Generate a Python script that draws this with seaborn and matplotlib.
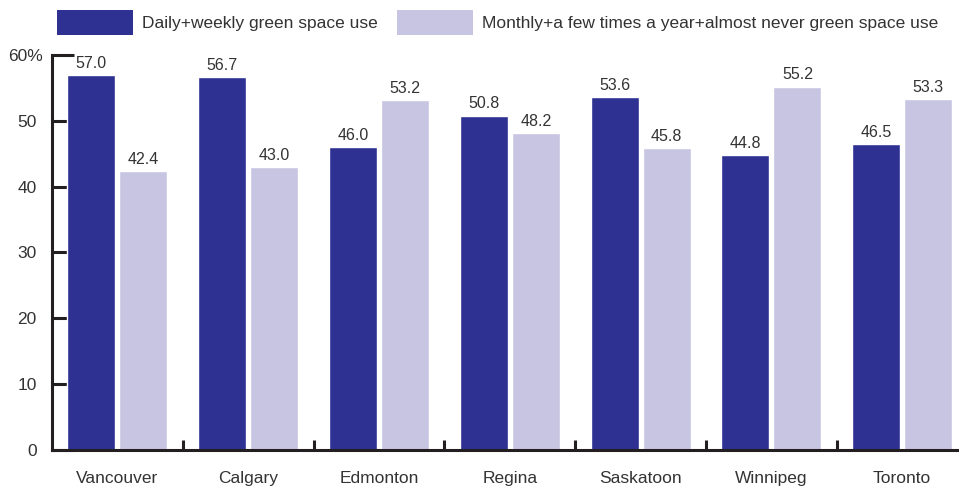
import matplotlib
matplotlib.use("Agg")
import matplotlib.pyplot as plt
import matplotlib.transforms as mtransforms
import seaborn as sns
import pandas as pd
from matplotlib.patches import Patch

cities = ["Vancouver", "Calgary", "Edmonton", "Regina", "Saskatoon", "Winnipeg", "Toronto"]
frequent_use = [57.0, 56.7, 46.0, 50.8, 53.6, 44.8, 46.5]
infrequent_use = [42.4, 43.0, 53.2, 48.2, 45.8, 55.2, 53.3]
series_names = ["Daily+weekly green space use",
                "Monthly+a few times a year+almost never green space use"]
y_ticks = [0, 10, 20, 30, 40, 50, 60]
y_tick_labels = ["0", "10", "20", "30", "40", "50", "60%"]

dark = "#2E3192"
light = "#C7C5E2"
ink = "#231F20"
text_col = "#333333"

df = pd.DataFrame({
    "city": cities * 2,
    "value": frequent_use + infrequent_use,
    "series": [series_names[0]] * len(cities) + [series_names[1]] * len(cities),
})

sns.set_theme(style="white")
plt.rcParams["font.family"] = ["Liberation Sans", "DejaVu Sans"]

fig = plt.figure(figsize=(9.59, 4.86), dpi=100)
ax = fig.add_axes([52 / 959, 36 / 486, 907 / 959, 395 / 486])

sns.barplot(data=df, x="city", y="value", hue="series", order=cities,
            hue_order=series_names, palette=[dark, light], width=0.795,
            gap=0.077, saturation=1, legend=False, ax=ax)

for cont in ax.containers:
    ax.bar_label(cont, fmt="%.1f", padding=3, fontsize=11.5, color=text_col)

ax.set_ylim(0, 60)
ax.set_xlim(-0.5, 6.434)
ax.set_xlabel("")
ax.set_ylabel("")
ax.set_axisbelow(True)

for side in ["top", "right"]:
    ax.spines[side].set_visible(False)
for side in ["left", "bottom"]:
    ax.spines[side].set_color(ink)
    ax.spines[side].set_linewidth(2.2)

ax.set_yticks(y_ticks)
ax.set_yticklabels(y_tick_labels)
ax.tick_params(axis="y", direction="in", length=16, width=2.2, color=ink,
               pad=11, labelsize=12.5, labelcolor=text_col, left=True)
# let the percent sign hang past the right-aligned numbers
top_label = ax.get_yticklabels()[-1]
top_label.set_transform(top_label.get_transform() +
                        mtransforms.ScaledTranslation(6 / 100, 0, fig.dpi_scale_trans))

ax.tick_params(axis="x", length=0, pad=15, labelsize=12.5, labelcolor=text_col)

# group separators rising from the baseline
for xs in [0.5, 1.5, 2.5, 3.5, 4.5, 5.5]:
    ax.plot([xs, xs], [0, 1.5], color=ink, lw=2.2, solid_capstyle="butt",
            zorder=0.6, clip_on=False)

handles = [Patch(facecolor=dark, edgecolor="none"), Patch(facecolor=light, edgecolor="none")]
fig.legend(handles, series_names, ncol=2, loc="upper left",
           bbox_to_anchor=(52 / 959, 1 - 5 / 486), frameon=False,
           fontsize=12.5, handlelength=4.38, handleheight=1.86,
           handletextpad=0.5, columnspacing=1.1, labelcolor=text_col,
           borderaxespad=0, borderpad=0.3)

fig.savefig("out.png", dpi=100)
